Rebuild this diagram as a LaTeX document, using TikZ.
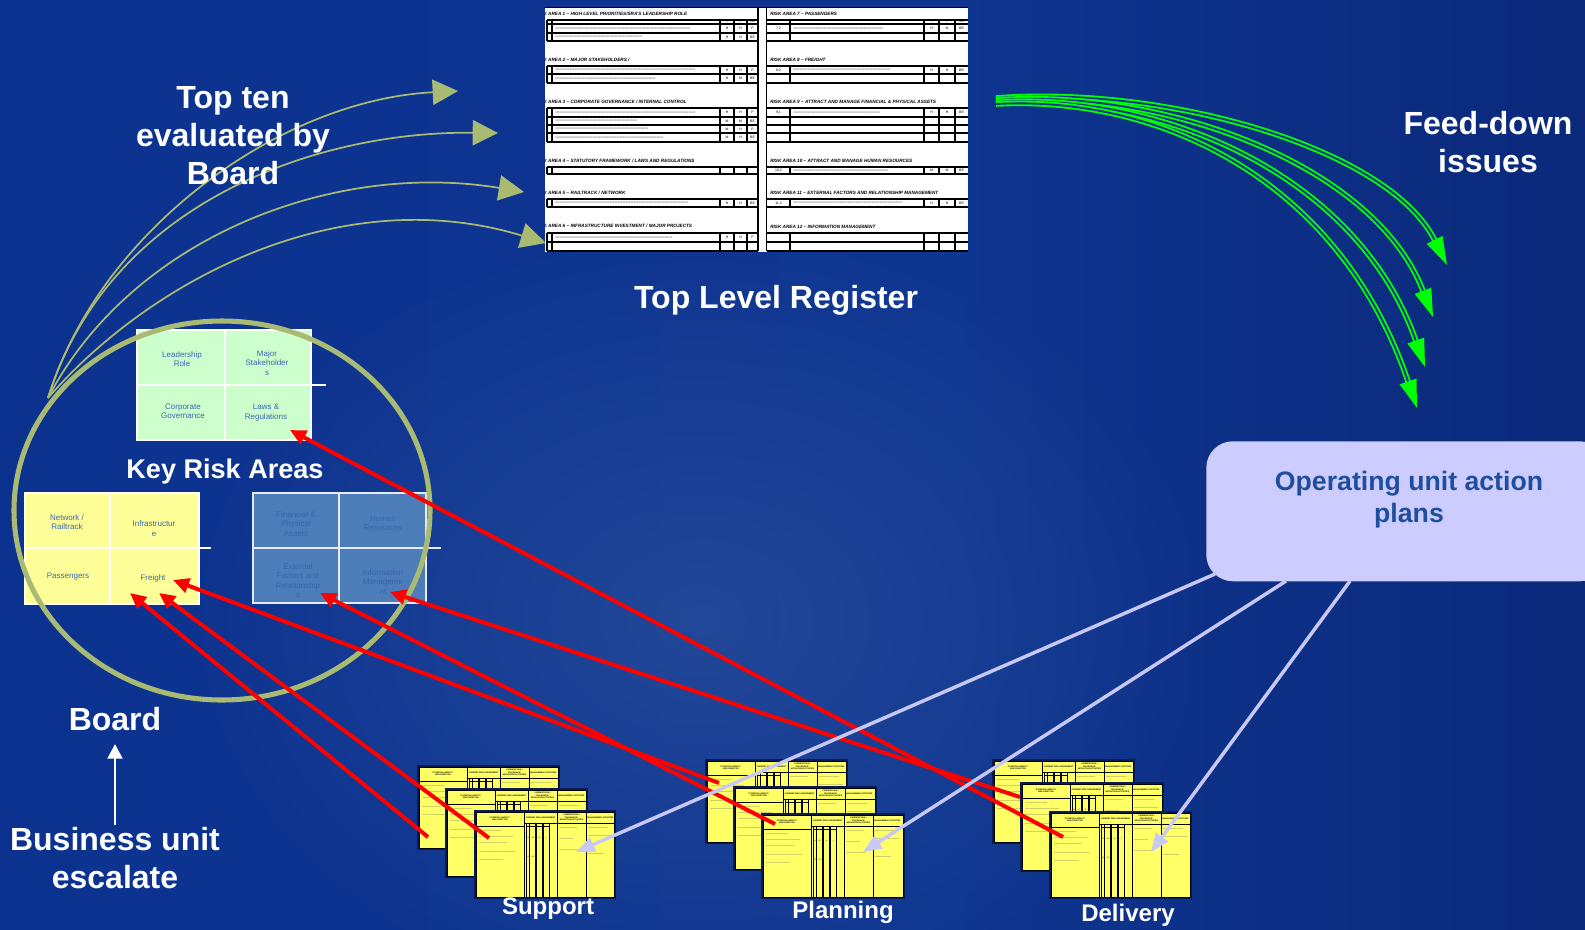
\documentclass[tikz,border=0pt]{standalone}
\usepackage{fontspec}
\setmainfont{Liberation Sans}
\usetikzlibrary{arrows.meta,fadings}

\definecolor{bgA}{HTML}{0B3090}
\definecolor{bgB}{HTML}{0E3590}
\definecolor{bgC}{HTML}{071A60}
\definecolor{glow}{HTML}{3358A0}
\definecolor{olive}{HTML}{A9BA72}
\definecolor{lime}{HTML}{00FF00}
\definecolor{lav}{HTML}{CCCCFF}
\definecolor{lavline}{HTML}{C8C8F6}
\definecolor{krgreen}{HTML}{CCFFCC}
\definecolor{kryellow}{HTML}{FFFF99}
\definecolor{krblue}{HTML}{4D7DB8}
\definecolor{krtext}{HTML}{3A66B0}
\definecolor{krbluetext}{HTML}{3666AE}
\definecolor{optext}{HTML}{1F4E9F}
\definecolor{sheety}{HTML}{FFFF66}
\definecolor{navy}{HTML}{0A1A55}
\definecolor{xgray}{HTML}{6A6A6A}

\pgfdeclarehorizontalshading{bgshade}{100bp}{color(0bp)=(bgA); color(55bp)=(bgB); color(100bp)=(bgC)}
\tikzfading[name=glowfade, inner color=transparent!0, outer color=transparent!100]

% a run of x characters filling a width given in px
\newcommand\xrun[1]{\hbox to \dimexpr #1pt*3/4\relax{\xleaders\hbox{x}\hfill}}

% one row of the left half of the register
\newcommand\lrow[6]{%
  \node[regx] (#1-x) at (555,#2) {\xrun{#3}};
  \node[regc] (#1-a) at (727,#2) {#4};
  \node[regc] (#1-b) at (740.5,#2) {#5};
  \node[regc] (#1-c) at (752.5,#2) {#6};}
% one row of the right half of the register
\newcommand\rrow[7]{%
  \node[regc] (#1-i) at (778.5,#2) {#3};
  \node[regx] (#1-x) at (793,#2) {\xrun{#4}};
  \node[regc] (#1-a) at (931.5,#2) {#5};
  \node[regc] (#1-b) at (947,#2) {#6};
  \node[regc] (#1-c) at (961.5,#2) {#7};}

% a yellow action-plan sheet: name, x, y, width, height
\newcommand\docsheet[5]{%
\begin{scope}[shift={(#2,#3)}]
  \fill[navy] (-2.5,-2.5) rectangle (#4+1.5,#5+1.5);
  \fill[sheety] (0,0) rectangle (#4,#5);
  \draw[shline] (0,0) rectangle (#4,#5);
  \draw[shline] (0,14) -- (48,14);
  \draw[shline] (48,11) -- (#4,11);
  \draw[shline] (48,0) -- (48,#5);
  \draw[shline] (81,0) -- (81,#5);
  \draw[shline] (110,0) -- (110,#5);
  \draw[shline] (50.5,14.5) -- (73.5,14.5);
  \foreach \c in {50.5,53.5,60,67,73.5} \draw[shthick] (\c,11) -- (\c,#5);
  \node[shhead] (#1-a) at (24,7) {POTENTIAL IMPACT /\\RISK DIRECTOR};
  \node[shhead] (#1-b) at (64.5,5.5) {CURRENT RISK ASSESSMENT};
  \node[shhead] (#1-c) at (95.5,5.5) {CURRENT RISK /\\TOLERANCE /\\MITIGATION ACTIVITIES};
  \node[shhead] (#1-d) at (124.5,5.5) {MANAGEMENT ACTIVITIES};
  \node[shval] (#1-v1) at (52,25.5) {H};
  \node[shval] (#1-v2) at (56.8,25.5) {M};
  \node[shval] (#1-v3) at (63.5,25.5) {H};
  \node[shval] (#1-v4) at (70.3,25.5) {L};
  \node[shval] (#1-v5) at (52,45) {H};
  \node[shval] (#1-v6) at (56.8,45) {M};
  \node[shx] (#1-t1) at (3,19) {\xrun{22}};
  \node[shx] (#1-t2) at (3,25) {\xrun{34}};
  \node[shx] (#1-t3) at (3,31) {\xrun{28}};
  \node[shx] (#1-t4) at (3,40) {\xrun{36}};
  \node[shx] (#1-t5) at (3,48) {\xrun{24}};
  \node[shx] (#1-t6) at (83,16) {\xrun{18}};
  \node[shx] (#1-t7) at (83,27) {\xrun{14}};
  \node[shx] (#1-t8) at (83,38) {\xrun{20}};
  \node[shx] (#1-t9) at (112,16) {\xrun{20}};
  \node[shx] (#1-t10) at (112,24) {\xrun{24}};
  \node[shx] (#1-t11) at (112,42) {\xrun{16}};
\end{scope}}

\begin{document}
\begin{tikzpicture}[x=0.75pt, y=-0.75pt,
  title/.style={text=white, font=\bfseries\fontsize{24}{28.5}\selectfont, align=center, inner sep=0},
  stacklabel/.style={text=white, font=\bfseries\fontsize{18}{21}\selectfont, inner sep=0},
  regthin/.style={draw=black, line width=0.8pt},
  regthick/.style={draw=black, line width=1.3pt},
  regh/.style={font=\bfseries\itshape\fontsize{3.5}{4}\selectfont, inner sep=0, anchor=west},
  regc/.style={font=\fontsize{2.6}{3}\selectfont, inner sep=0},
  regs/.style={font=\fontsize{1.8}{2}\selectfont, inner sep=0},
  regx/.style={font=\fontsize{2.4}{3}\selectfont, text=xgray, inner sep=0, anchor=west},
  shline/.style={draw=black, line width=0.5pt},
  shthick/.style={draw=black, line width=1pt},
  shhead/.style={font=\bfseries\fontsize{1.5}{1.8}\selectfont, align=center, inner sep=0},
  shval/.style={font=\fontsize{1.5}{1.8}\selectfont, inner sep=0},
  shx/.style={font=\fontsize{1.4}{1.6}\selectfont, text=xgray, inner sep=0, anchor=west},
  cell/.style={font=\fontsize{6}{7}\selectfont, text=krtext, align=center, inner sep=0},
  bcell/.style={font=\fontsize{6}{7}\selectfont, text=krbluetext, align=center, inner sep=0},
  gridline/.style={draw=white, line width=1.4pt},
  olivearrow/.style={draw=olive, line width=1.3pt, -{Triangle[length=19pt,width=19pt]}},
  feedarrow/.style={draw=lime, line width=1.4pt, double=bgB, double distance=1.4pt, -{Triangle[length=21pt,width=13pt]}},
  redarrow/.style={draw=red, line width=3pt, -{Triangle[length=12pt,width=11pt]}},
  lavarrow/.style={draw=lavline, line width=2.6pt, -{Triangle[length=14pt,width=11pt]}},
  whitearrow/.style={draw=white, line width=2.2pt, -{Triangle[length=11pt,width=11pt]}}]

\useasboundingbox (0,0) rectangle (1585,929);
\clip (0,0) rectangle (1585,929);

% backdrop
\shade[shading=bgshade] (0,0) rectangle (1585,929);
\fill[glow, path fading=glowfade, fill opacity=0.55] (700,620) ellipse [x radius=520, y radius=400];

% ---------- top level register ----------
\node[fill=white, inner sep=0, minimum width=317.25pt, minimum height=183.4pt, anchor=north west] (register) at (545,7) {};
\begin{scope}
  \clip (545,7) rectangle (968,252);
  \foreach \y in {24,33,74,117,125,133,242} {
    \draw[regthin] (547,\y) -- (758,\y);
    \draw[regthin] (766.5,\y) -- (968,\y);
  }
  \foreach \y in {20,41,66,83,108,142,167,174,199,207,233,251} {
    \draw[regthick] (547,\y) -- (758,\y);
    \draw[regthick] (766.5,\y) -- (968,\y);
  }
  \draw[regthick] (545,7.5) -- (968,7.5);
  \foreach \a/\b in {20/41,66/83,108/142,167/174,199/207,233/251} {
    \foreach \x in {547,552,720,734,747} \draw[regthin] (\x,\a) -- (\x,\b);
    \foreach \x in {790,924,939,955} \draw[regthin] (\x,\a) -- (\x,\b);
  }
  \draw[regthick] (758,7) -- (758,251);
  \draw[regthick] (766.5,7) -- (766.5,251);

  % area headings
  \node[regh] (ra1) at (535.5,13.5) {RISK AREA 1 – HIGH LEVEL PRIORITIES/SRA’S LEADERSHIP ROLE};
  \node[regh] (ra2) at (535.5,59.5) {RISK AREA 2 – MAJOR STAKEHOLDERS /};
  \node[regh] (ra3) at (535.5,102) {RISK AREA 3 – CORPORATE GOVERNANCE / INTERNAL CONTROL};
  \node[regh] (ra4) at (535.5,160.5) {RISK AREA 4 – STATUTORY FRAMEWORK /  LAWS AND REGULATIONS};
  \node[regh] (ra5) at (535.5,193) {RISK AREA 5 – RAILTRACK / NETWORK};
  \node[regh] (ra6) at (535.5,225.5) {RISK AREA 6 – INFRASTRUCTURE INVESTMENT /  MAJOR PROJECTS};
  \node[regh] (ra7) at (770,13.5) {RISK AREA 7 – PASSENGERS};
  \node[regh] (ra8) at (770,59.5) {RISK AREA 8 – FREIGHT};
  \node[regh] (ra9) at (770,102) {RISK AREA 9 – ATTRACT AND MANAGE FINANCIAL \& PHYSICAL ASSETS};
  \node[regh] (ra10) at (770,160.5) {RISK AREA 10 – ATTRACT AND MANAGE HUMAN RESOURCES};
  \node[regh] (ra11) at (770,193) {RISK AREA 11 – EXTERNAL FACTORS AND RELATIONSHIP MANAGEMENT};
  \node[regh] (ra12) at (770,227) {RISK AREA 12 – INFORMATION MANAGEMENT};

  % column captions
  \node[regs] (lcl) at (727,22) {L};
  \node[regs] (lcp) at (740.5,22) {P};
  \node[regs] (lcr) at (752.5,22) {Risk};
  \node[regs] (rcl) at (931.5,22) {L};
  \node[regs] (rcp) at (947,22) {P};
  \node[regs] (rcr) at (961.5,22) {Risk};

  % rows, left half
  \lrow{l1a}{28.5}{135}{H}{H}{P}
  \lrow{l1b}{37}{87}{H}{H}{BE}
  \lrow{l2a}{70}{140}{H}{H}{P}
  \lrow{l2b}{78.5}{100}{H}{M}{BE}
  \lrow{l3a}{112.5}{140}{H}{H}{P}
  \lrow{l3b}{121}{82}{M}{M}{BE}
  \lrow{l3c}{129}{93}{M}{H}{P}
  \lrow{l3d}{137.5}{108}{M}{H}{BE}
  \lrow{l5a}{203}{133}{H}{H}{BE}
  \lrow{l6a}{237.5}{117}{H}{H}{P}

  % rows, right half
  \rrow{r7a}{28.5}{7.2}{90}{H}{M}{BE}
  \rrow{r8a}{70}{8.2}{97}{H}{H}{BE}
  \rrow{r9a}{112.5}{9.1}{87}{H}{H}{BE}
  \rrow{r10a}{170.5}{10.2}{95}{M}{M}{BE}
  \rrow{r11a}{203}{11.2}{109}{H}{H}{BE}
\end{scope}

\node[title] (tlr) at (776,300) {Top Level Register};

% ---------- key risk areas ----------
% leadership group
\fill[krgreen] (137,330) rectangle (311,440);
\draw[gridline] (137,330) rectangle (311,440);
\draw[gridline] (225,330) -- (225,440);
\draw[gridline] (137,385) -- (326,385);
\node[cell] (kLead) at (182,359) {Leadership\\Role};
\node[cell] (kMaj) at (267,363) {Major\\Stakeholder\\s};
\node[cell] (kCorp) at (183,411) {Corporate\\Governance};
\node[cell] (kLaws) at (266,412.5) {Laws \&\\Regulations};

% operations group
\fill[kryellow] (25,493) rectangle (199,604);
\draw[gridline] (25,493) rectangle (199,604);
\draw[gridline] (110,493) -- (110,604);
\draw[gridline] (25,548) -- (211,548);
\node[cell] (kNet) at (67,522) {Network /\\Railtrack};
\node[cell] (kInf) at (154,528.5) {Infrastructur\\e};
\node[cell] (kPass) at (68,577) {Passengers};
\node[cell] (kFr) at (153,578) {Freight};

% resources group
\fill[krblue] (253,493) rectangle (426,603);
\draw[gridline, draw=white!85!krblue] (253,493) rectangle (426,603);
\draw[gridline, draw=white!85!krblue] (339,493) -- (339,603);
\draw[gridline, draw=white!85!krblue] (253,548) -- (441,548);
\node[bcell] (kFin) at (296,524) {Financial \&\\Physical\\Assets};
\node[bcell] (kHum) at (383,523) {Human\\Resources};
\node[bcell] (kExt) at (298,580.5) {External\\Factors and\\Relationship\\s};
\node[bcell] (kInfo) at (383,582) {Information\\Manageme\\nt};

\node[title, font=\bfseries\fontsize{20.3}{24}\selectfont] (kra) at (225,471) {Key Risk Areas};

% the board circle
\draw[olive, line width=3.8pt] (222,510.5) ellipse [x radius=208, y radius=189.5];
\coordinate (bedge) at (48,398);

% top ten arrows into the register
\coordinate (tt1) at (458,91);
\coordinate (tt2) at (498,133);
\coordinate (tt3) at (524,192);
\coordinate (tt4) at (546,243);
\draw[olivearrow] (bedge) .. controls (100,230) and (280,100) .. (tt1);
\draw[olivearrow] (bedge) .. controls (110,200) and (320,131) .. (tt2);
\draw[olivearrow] (bedge) .. controls (130,240) and (330,160) .. (tt3);
\draw[olivearrow] (bedge) .. controls (150,280) and (340,180) .. (tt4);

\node[title] (topten) at (233,135.5) {Top ten\\evaluated by\\Board};

% feed-down arrows
\coordinate (fd0) at (996,98);
\coordinate (fd0b) at (996,100);
\coordinate (fd0c) at (996,102);
\coordinate (fd0d) at (996,104);
\coordinate (fd1) at (1447,265);
\coordinate (fd2) at (1433,317);
\coordinate (fd3) at (1425,367);
\coordinate (fd4) at (1417,408);
\draw[feedarrow] (fd0) .. controls (1170,85) and (1390,150) .. (fd1);
\draw[feedarrow] (fd0b) .. controls (1165,88) and (1375,165) .. (fd2);
\draw[feedarrow] (fd0c) .. controls (1162,92) and (1358,175) .. (fd3);
\draw[feedarrow] (fd0d) .. controls (1160,95) and (1340,180) .. (fd4);

\node[title] (feed) at (1488,142.5) {Feed-down\\issues};

% operating unit action plans
\node[fill=lav, rounded corners=20pt, inner sep=0, minimum width=300pt, minimum height=105pt, anchor=north west] (opbox) at (1206,441) {};
\node[font=\bfseries\fontsize{20}{24}\selectfont, text=optext, align=center, inner sep=0] (optext) at (1409,499.5) {Operating unit action\\plans};

% board and escalation
\node[title] (board) at (115,719) {Board};
\node[title] (bue) at (115,858) {Business unit\\escalate};
\coordinate (bueTop) at (115,825);
\coordinate (boardBot) at (115,744);
\draw[whitearrow] (bueTop) -- (boardBot);

% ---------- operating unit sheets ----------
\docsheet{s1}{419}{767}{139}{81}
\docsheet{s2}{447}{790}{139}{86}
\docsheet{s3}{476}{812}{138}{85}
\docsheet{p1}{707}{761}{139}{81}
\docsheet{p2}{735}{788}{140}{81}
\docsheet{p3}{763}{815}{140}{82}
\docsheet{d1}{994}{761}{139}{81}
\docsheet{d2}{1022}{784}{140}{86}
\docsheet{d3}{1051}{813}{139}{84}

\node[stacklabel] (lsup) at (548,909) {Support};
\node[stacklabel] (lpla) at (843,912) {Planning};
\node[stacklabel] (ldel) at (1128,915) {Delivery};

% escalation arrows back to the risk areas
\coordinate (sup1) at (428,837);
\coordinate (sup2) at (489,838);
\coordinate (pla1) at (719,783);
\coordinate (pla2) at (775,824);
\coordinate (del1) at (1020,797);
\coordinate (del2) at (1063,837);
\coordinate (kt1) at (130,593);
\coordinate (kt2) at (159,593);
\coordinate (kt3) at (173,580);
\coordinate (kt4) at (320,593);
\coordinate (kt5) at (390,592);
\coordinate (kt6) at (290,430);
\draw[redarrow] (sup1) -- (kt1);
\draw[redarrow] (sup2) -- (kt2);
\draw[redarrow] (pla1) -- (kt3);
\draw[redarrow] (pla2) -- (kt4);
\draw[redarrow] (del1) -- (kt5);
\draw[redarrow] (del2) -- (kt6);

% action plans passed down to the units
\coordinate (op1) at (1215,574);
\coordinate (op2) at (1286,581);
\coordinate (op3) at (1350,581);
\coordinate (sup3) at (576,852);
\coordinate (pla3) at (863,852);
\coordinate (del3) at (1151,852);
\draw[lavarrow] (op1) -- (sup3);
\draw[lavarrow] (op2) -- (pla3);
\draw[lavarrow] (op3) -- (del3);
\end{tikzpicture}
\end{document}
